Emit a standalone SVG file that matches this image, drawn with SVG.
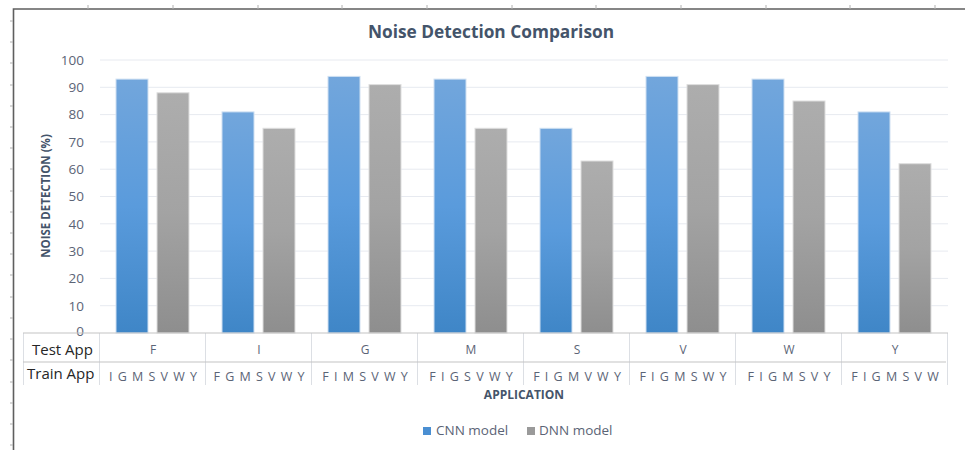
<svg xmlns="http://www.w3.org/2000/svg" width="965" height="450" viewBox="0 0 965 450">
<defs>
<linearGradient id="gCnn" x1="0" y1="0" x2="0" y2="1">
<stop offset="0" stop-color="#72a6dc"/>
<stop offset="0.5" stop-color="#5a9bdc"/>
<stop offset="1" stop-color="#3f86c7"/>
</linearGradient>
<linearGradient id="gDnn" x1="0" y1="0" x2="0" y2="1">
<stop offset="0" stop-color="#adadad"/>
<stop offset="0.5" stop-color="#a3a3a3"/>
<stop offset="1" stop-color="#8e8e8e"/>
</linearGradient>
<style>
.frame{stroke:#5f5f5f;stroke-width:1.6;fill:none}
.tick{stroke:#b0b0b0;stroke-width:1}
.grid{stroke:#e7eaf0;stroke-width:1}
.axis{stroke:#c3c3c3;stroke-width:1.2}
.col{stroke:#dcdfe4;stroke-width:1}
.cnn{fill:url(#gCnn);stroke:#cfe0f2;stroke-width:1}
.dnn{fill:url(#gDnn);stroke:#dedede;stroke-width:1}
.ylab{font-family:"Open Sans","DejaVu Sans",sans-serif;font-size:13.5px;fill:#5b6476;text-anchor:end}
.title{font-family:"Open Sans","DejaVu Sans",sans-serif;font-size:17.3px;font-weight:bold;fill:#44546a;text-anchor:middle}
.atitle{font-family:"Open Sans","DejaVu Sans",sans-serif;font-size:11.5px;font-weight:bold;fill:#44546a;text-anchor:middle}
.xtitle{font-family:"Open Sans","DejaVu Sans",sans-serif;font-size:12px;font-weight:bold;fill:#44546a;text-anchor:middle}
.rowh{font-family:"Open Sans","DejaVu Sans",sans-serif;font-size:15px;fill:#262626}
.cat{font-family:"Open Sans","DejaVu Sans",sans-serif;font-size:12px;fill:#5b6476;text-anchor:middle}
.train{font-family:"Open Sans","DejaVu Sans",sans-serif;font-size:12.5px;fill:#5b6476;text-anchor:middle;letter-spacing:1px}
.leg{font-family:"Open Sans","DejaVu Sans",sans-serif;font-size:13.5px;fill:#5b6476}
</style>
</defs>
<rect width="965" height="450" fill="#ffffff"/>
<g id="frame">
<path class="frame" d="M13.5 450 V9 H965"/>
<g class="tick">
<path d="M88 5V9M173 5V9M258 5V9M342 5V9M427 5V9M512 5V9M596 5V9M681 5V9M766 5V9M850 5V9M935 5V9"/>
<path d="M10 21H13M10 42H13M10 63H13M10 85H13M10 106H13M10 127H13M10 148H13M10 169H13M10 191H13M10 212H13M10 233H13M10 254H13M10 275H13M10 297H13M10 318H13M10 339H13M10 360H13M10 382H13M10 403H13M10 424H13M10 445H13"/>
</g>
</g>
<g id="title"><text class="title" x="491" y="38">Noise Detection Comparison</text></g>
<g id="gridlines" class="grid">
<path d="M100 60H948M100 87.3H948M100 114.6H948M100 141.9H948M100 169.2H948M100 196.5H948M100 223.8H948M100 251.1H948M100 278.4H948M100 305.7H948"/>
</g>
<g id="y-axis">
<text class="ylab" x="84" y="64.8">100</text>
<text class="ylab" x="84" y="92.1">90</text>
<text class="ylab" x="84" y="119.4">80</text>
<text class="ylab" x="84" y="146.7">70</text>
<text class="ylab" x="84" y="174">60</text>
<text class="ylab" x="84" y="201.3">50</text>
<text class="ylab" x="84" y="228.6">40</text>
<text class="ylab" x="84" y="255.9">30</text>
<text class="ylab" x="84" y="283.2">20</text>
<text class="ylab" x="84" y="310.5">10</text>
<text class="ylab" x="84" y="335.5">0</text>
<text class="atitle" transform="translate(50 196) rotate(-90)">NOISE DETECTION (%)</text>
</g>
<g id="bars">
<g id="cat-F"><rect class="cnn" x="116" y="79.1" width="32" height="253.9"/><rect class="dnn" x="157" y="92.8" width="32" height="240.2"/></g>
<g id="cat-I"><rect class="cnn" x="222" y="111.9" width="32" height="221.1"/><rect class="dnn" x="263" y="128.3" width="32" height="204.7"/></g>
<g id="cat-G"><rect class="cnn" x="328" y="76.4" width="32" height="256.6"/><rect class="dnn" x="369" y="84.6" width="32" height="248.4"/></g>
<g id="cat-M"><rect class="cnn" x="434" y="79.1" width="32" height="253.9"/><rect class="dnn" x="475" y="128.3" width="32" height="204.7"/></g>
<g id="cat-S"><rect class="cnn" x="540" y="128.3" width="32" height="204.7"/><rect class="dnn" x="581" y="161" width="32" height="172"/></g>
<g id="cat-V"><rect class="cnn" x="646" y="76.4" width="32" height="256.6"/><rect class="dnn" x="687" y="84.6" width="32" height="248.4"/></g>
<g id="cat-W"><rect class="cnn" x="752" y="79.1" width="32" height="253.9"/><rect class="dnn" x="793" y="101" width="32" height="232"/></g>
<g id="cat-Y"><rect class="cnn" x="858" y="111.9" width="32" height="221.1"/><rect class="dnn" x="899" y="163.7" width="32" height="169.3"/></g>
</g>
<g id="table">
<path class="col" d="M23.5 333V385M99.5 333V385M205.5 333V385M311.5 333V385M417.5 333V385M523.5 333V385M629.5 333V385M735.5 333V385M841.5 333V385M947.5 333V385"/>
<path class="axis" d="M23 333H948M23 362H946"/>
<text class="rowh" x="32" y="355">Test App</text>
<text class="rowh" x="27" y="379">Train App</text>
<text class="cat" x="153" y="354">F</text>
<text class="cat" x="259" y="354">I</text>
<text class="cat" x="365" y="354">G</text>
<text class="cat" x="471" y="354">M</text>
<text class="cat" x="577" y="354">S</text>
<text class="cat" x="683" y="354">V</text>
<text class="cat" x="789" y="354">W</text>
<text class="cat" x="895" y="354">Y</text>
<text class="train" x="153.5" y="381">I G M S V W Y</text>
<text class="train" x="259.5" y="381">F G M S V W Y</text>
<text class="train" x="365.5" y="381">F I M S V W Y</text>
<text class="train" x="471.5" y="381">F I G S V W Y</text>
<text class="train" x="577.5" y="381">F I G M V W Y</text>
<text class="train" x="683.5" y="381">F I G M S W Y</text>
<text class="train" x="789.5" y="381">F I G M S V Y</text>
<text class="train" x="895.5" y="381">F I G M S V W</text>
<text class="xtitle" x="524" y="399">APPLICATION</text>
</g>
<g id="legend">
<rect x="423" y="427" width="8" height="8" fill="#4a8fd2"/>
<text class="leg" x="436" y="435">CNN model</text>
<rect x="527" y="427" width="8" height="8" fill="#9a9a9a"/>
<text class="leg" x="539" y="435">DNN model</text>
</g>
</svg>
